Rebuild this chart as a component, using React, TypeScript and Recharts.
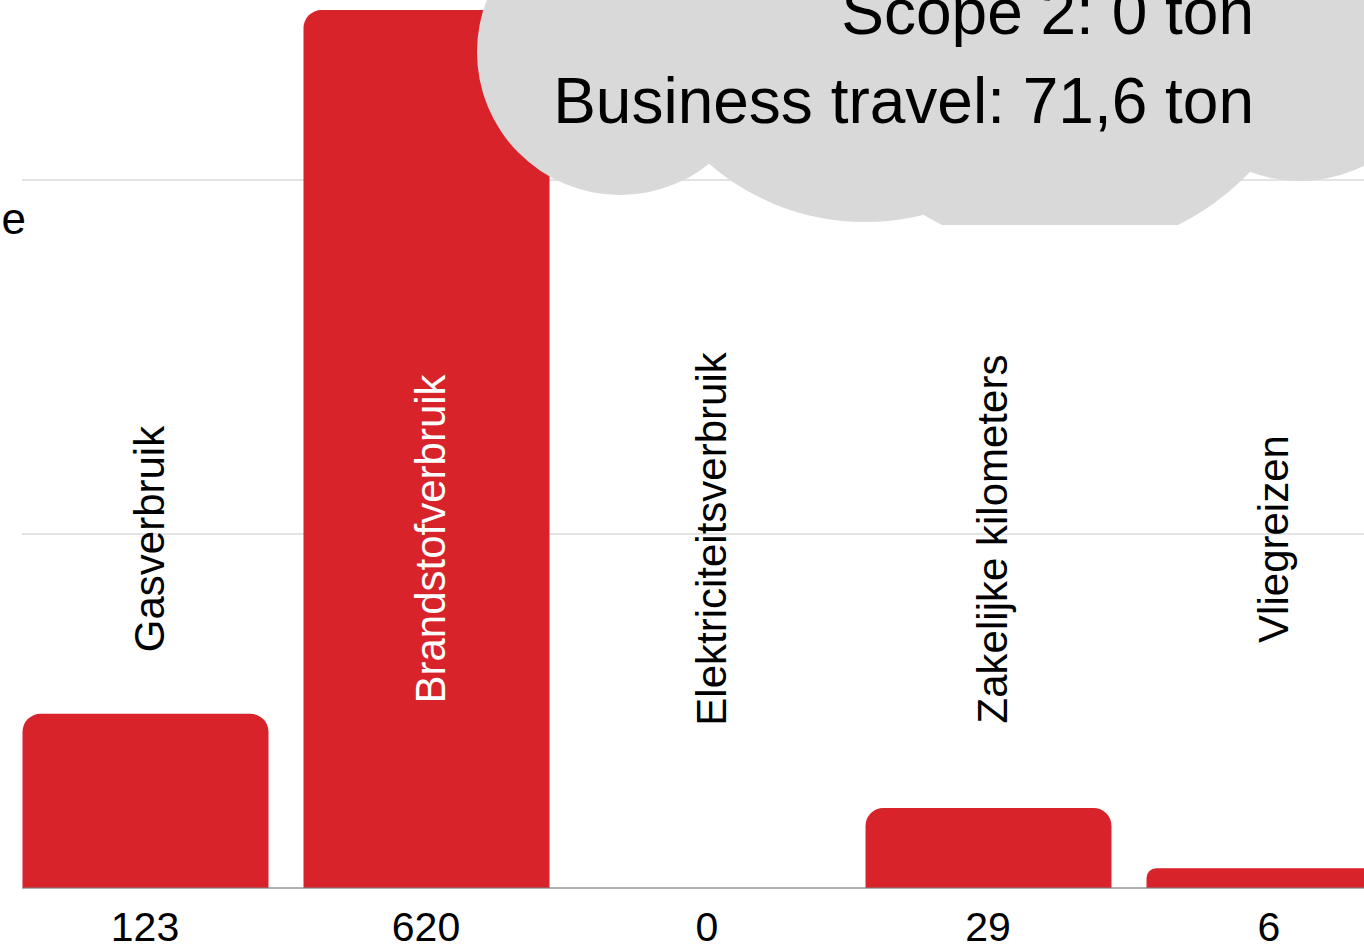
import { BarChart, Bar, XAxis, YAxis, CartesianGrid } from 'recharts';

// categories and values
const categories = [
  'Gasverbruik',
  'Brandstofverbruik',
  'Elektriciteitsverbruik',
  'Zakelijke kilometers',
  'Vliegreizen',
];
const barValues = [123, 620, 0, 56.5, 14];
const valueLabels = ['123', '620', '0', '29', '6'];
const yTicks = [0, 250, 500, 750];
const cloudLines = ['Scope 2: 0 ton', 'Business travel: 71,6 ton'];
const axisTitle = 'e';

const data = categories.map((name, i) => ({
  name,
  value: barValues[i],
  label: valueLabels[i],
}));

const FONT = '"Liberation Sans", Arial, sans-serif';
const RED = '#d8232a';
const CLOUD = '#d9d9d9';

// chart is larger than the window, shifted up so the picture is a crop
const SHIFT = 374;

// number under the bar plus the rotated category name
const CategoryTick = (props: any) => {
  const { x, y, index, payload } = props;
  const inside = barValues[index] > 400;
  const cy = y - 351;
  return (
    <g>
      <text x={x} y={y + 51} textAnchor="middle" fontSize={41} fontFamily={FONT} fill="#000">
        {valueLabels[index]}
      </text>
      <text
        transform={`translate(${x + 19},${cy}) rotate(-90)`}
        textAnchor="middle"
        fontSize={42}
        fontFamily={FONT}
        fill={inside ? '#fff' : '#000'}
      >
        {payload.value}
      </text>
    </g>
  );
};

const Cloud = () => (
  <svg
    width={1364}
    height={945}
    style={{ position: 'absolute', left: 0, top: 0, pointerEvents: 'none' }}
  >
    <defs>
      <clipPath id="cloudClip">
        <rect x={0} y={-400} width={1400} height={625} />
      </clipPath>
    </defs>
    <rect x={620} y={-300} width={680} height={440} fill={CLOUD} />
    <circle cx={620} cy={52} r={143} fill={CLOUD} />
    <circle cx={865} cy={-16} r={238} fill={CLOUD} />
    <circle cx={1060} cy={-10} r={263} fill={CLOUD} clipPath="url(#cloudClip)" />
    <circle cx={1300} cy={40} r={141} fill={CLOUD} />
    {cloudLines.map((t, i) => (
      <text
        key={t}
        x={1254}
        y={34 + i * 89}
        textAnchor="end"
        fontSize={64}
        fontFamily={FONT}
        fill="#000"
      >
        {t}
      </text>
    ))}
    <text x={26} y={234} textAnchor="end" fontSize={44} fontFamily={FONT} fill="#000">
      {axisTitle}
    </text>
  </svg>
);

const App = () => {
  return (
    <div
      style={{
        position: 'fixed',
        left: 0,
        top: 0,
        width: 1364,
        height: 945,
        overflow: 'hidden',
        background: '#fff',
      }}
    >
      <div style={{ position: 'absolute', left: 0, top: -SHIFT }}>
        <BarChart
          width={1410}
          height={1342}
          data={data}
          margin={{ top: 200, right: 18, left: 22, bottom: 50 }}
        >
          <CartesianGrid vertical={false} stroke="#c8c8c8" />
          <XAxis
            dataKey="name"
            padding={{ left: -17.5, right: -17.5 }}
            tickLine={false}
            tickSize={0}
            axisLine={{ stroke: '#808080' }}
            tick={<CategoryTick />}
            interval={0}
          />
          <YAxis hide domain={[0, 750]} ticks={yTicks} />
          <Bar dataKey="value" fill={RED} barSize={246} radius={[18, 18, 0, 0]} isAnimationActive={false} />
        </BarChart>
      </div>
      <Cloud />
    </div>
  );
};

export default App;
